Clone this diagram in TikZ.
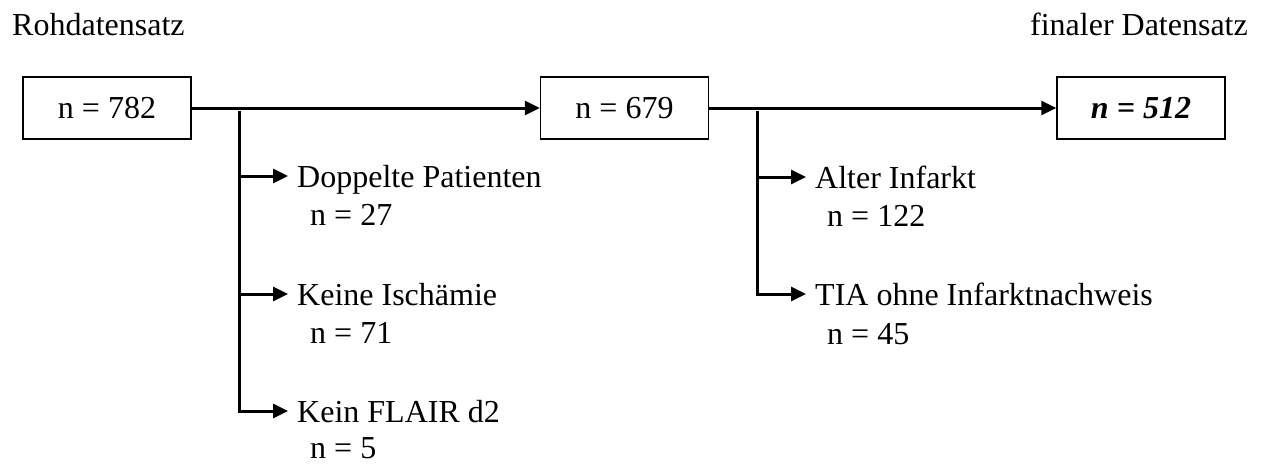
\documentclass[tikz,border=0pt]{standalone}
\usepackage{fontspec}
\setmainfont{Liberation Serif}
\usetikzlibrary{arrows.meta}
\begin{document}
\begin{tikzpicture}[x=1pt,y=-1pt,
  txt/.style={font=\fontsize{32}{38}\selectfont},
  box/.style={txt,draw,line width=1.5pt,minimum width=168pt,minimum height=62pt,inner sep=0pt},
  lbl/.style={txt,anchor=base west,inner sep=0pt},
  conn/.style={line width=3pt},
  arr/.style={conn,-{Triangle[length=15pt,width=14pt]}}]
\useasboundingbox (0,0) rectangle (1263,463);
% headings
\node[txt,anchor=base west,inner sep=0pt] (h1) at (12,35) {Rohdatensatz};
\node[txt,anchor=base east,inner sep=0pt] (h2) at (1248,35) {finaler Datensatz};
% boxes
\node[box] (b1) at (107,108) {n = 782};
\node[box] (b2) at (624.5,108) {n = 679};
\node[box] (b3) at (1141,108) {\textbf{\textit{n = 512}}};
\draw[arr] (b1) -- (b2);
\draw[arr] (b2) -- (b3);
% left exclusions
\node[lbl] (l1) at (297,187) {Doppelte Patienten};
\node[lbl] (l1n) at (310,225) {n = 27};
\node[lbl] (l2) at (297,305) {Keine Ischämie};
\node[lbl] (l2n) at (310,343) {n = 71};
\node[lbl] (l3) at (297,422) {Kein FLAIR d2};
\node[lbl] (l3n) at (310,458) {n = 5};
\coordinate (v1) at (239,111);
\coordinate (j1) at (239,176);
\coordinate (j2) at (239,294);
\coordinate (a1) at (288,176);
\coordinate (a2) at (288,294);
\coordinate (a3) at (288,411);
\draw[arr] (v1) |- (a3);
\draw[arr] (j1) -- (a1);
\draw[arr] (j2) -- (a2);
% right exclusions
\node[lbl] (r1) at (815,188) {Alter Infarkt};
\node[lbl] (r1n) at (827,226) {n = 122};
\node[lbl] (r2) at (815,305) {TIA ohne Infarktnachweis};
\node[lbl] (r2n) at (827,344) {n = 45};
\coordinate (v2) at (757,111);
\coordinate (k1) at (757,177);
\coordinate (c1) at (806,177);
\coordinate (c2) at (806,294);
\draw[arr] (v2) |- (c2);
\draw[arr] (k1) -- (c1);
\end{tikzpicture}
\end{document}
